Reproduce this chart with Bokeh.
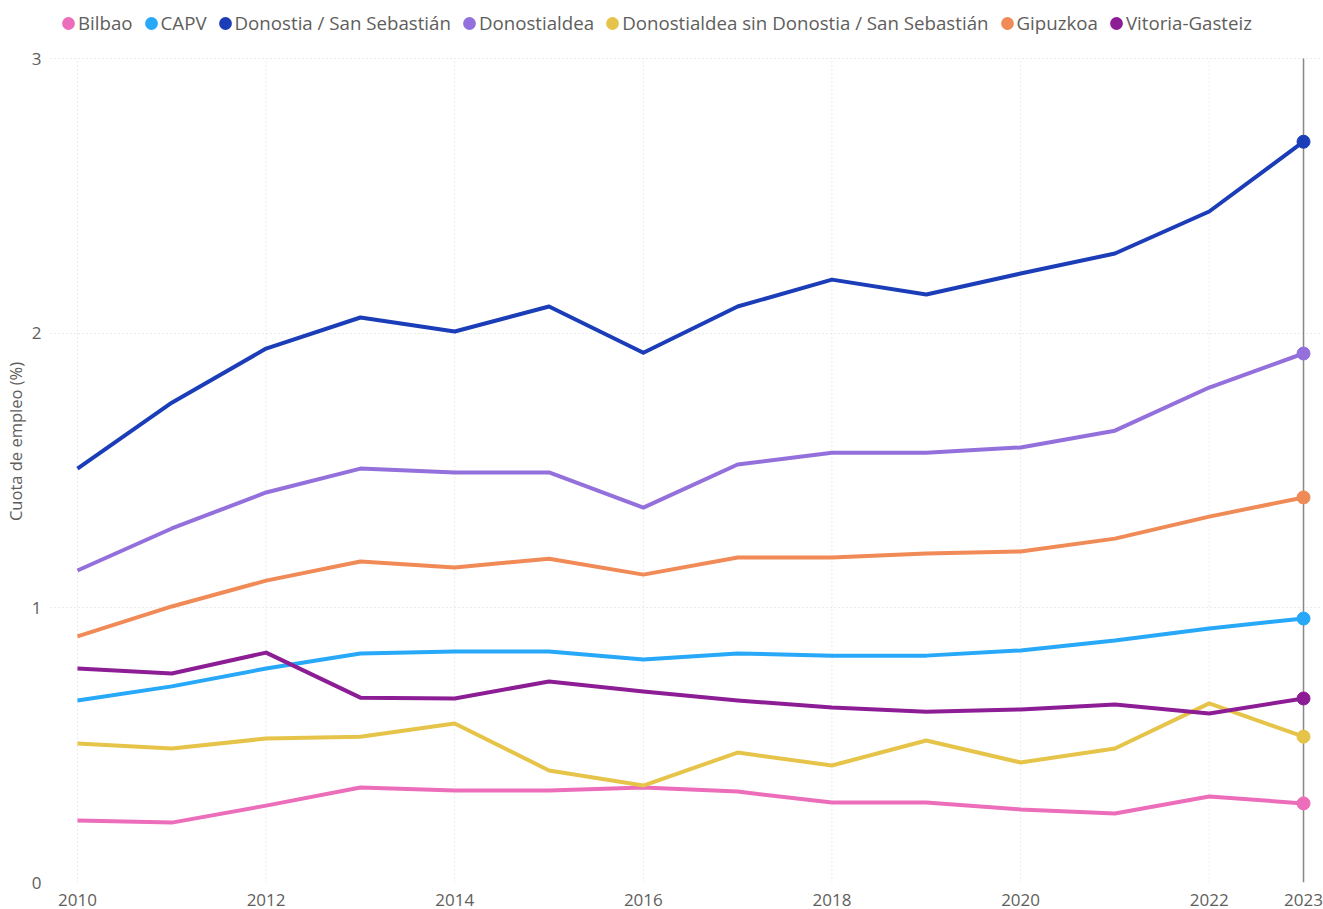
from bokeh.plotting import figure
from bokeh.models import ColumnDataSource, Legend, LegendItem, FixedTicker
from bokeh.embed import file_html
from bokeh.resources import INLINE

years = list(range(2010, 2024))
series_names = ["Bilbao", "CAPV", "Donostia / San Sebastián", "Donostialdea",
                "Donostialdea sin Donostia / San Sebastián", "Gipuzkoa", "Vitoria-Gasteiz"]
bilbao = [0.226, 0.218, 0.280, 0.346, 0.335, 0.335, 0.346, 0.331, 0.291, 0.291, 0.266, 0.251, 0.313, 0.288]
capv = [0.663, 0.714, 0.779, 0.834, 0.841, 0.841, 0.812, 0.834, 0.826, 0.826, 0.845, 0.881, 0.925, 0.961]
donostia = [1.507, 1.747, 1.944, 2.057, 2.006, 2.097, 1.929, 2.097, 2.195, 2.141, 2.217, 2.290, 2.443, 2.697]
donostialdea = [1.136, 1.289, 1.420, 1.507, 1.493, 1.493, 1.365, 1.522, 1.565, 1.565, 1.584, 1.645, 1.802, 1.926]
sin_donostia = [0.506, 0.488, 0.524, 0.531, 0.579, 0.408, 0.353, 0.473, 0.426, 0.517, 0.437, 0.488, 0.652, 0.531]
gipuzkoa = [0.896, 1.005, 1.099, 1.169, 1.147, 1.179, 1.121, 1.183, 1.183, 1.198, 1.205, 1.252, 1.332, 1.402]
vitoria = [0.779, 0.761, 0.837, 0.673, 0.670, 0.732, 0.695, 0.663, 0.637, 0.622, 0.630, 0.648, 0.615, 0.670]
colors = ["#EC6DB9", "#28A8F8", "#1B3DB8", "#9370DB", "#E6C449", "#F08A56", "#8C1D95"]
x_ticks = [2010, 2012, 2014, 2016, 2018, 2020, 2022, 2023]
x_grid_years = [2010, 2012, 2014, 2016, 2018, 2020, 2022]
y_ticks = [0, 1, 2, 3]

all_values = [bilbao, capv, donostia, donostialdea, sin_donostia, gipuzkoa, vitoria]

FONT = "Open Sans"
GREY = "#605E5C"

# frame spans from the top of the canvas (legend sits inside the frame, above y=3)
p = figure(width=1323, height=909, output_backend="svg", toolbar_location=None,
           x_range=(2009.714, 2023.18), y_range=(0, 3.2112),
           min_border_left=50, min_border_right=3, min_border_top=0, min_border_bottom=27)
p.outline_line_color = None
p.background_fill_color = "white"

# vertical dotted grid lines, limited to the value range
n = len(x_grid_years)
p.segment(x0=x_grid_years, y0=[y_ticks[0]] * n, x1=x_grid_years, y1=[y_ticks[-1]] * n,
          line_color="#D6D6D6", line_width=1, line_dash="1 3")
# current-year reference line
p.segment(x0=[years[-1]], y0=[y_ticks[0]], x1=[years[-1]], y1=[y_ticks[-1]],
          line_color="#8A8886", line_width=1.5)

order = [0, 4, 6, 1, 5, 3, 2]
for i in range(len(series_names)):
    src = ColumnDataSource(dict(x=years, y=all_values[i]))
    p.line("x", "y", source=src, line_color=colors[i], line_width=4, line_join="round")
for i in order:
    src_last = ColumnDataSource(dict(x=[years[-1]], y=[all_values[i][-1]]))
    p.scatter("x", "y", source=src_last, size=13, fill_color=colors[i], line_color=colors[i])

items = []
for i, name in enumerate(series_names):
    dummy = ColumnDataSource(dict(x=[float("nan")], y=[float("nan")]))
    r = p.ellipse("x", "y", source=dummy, width=13, height=13,
                  width_units="screen", height_units="screen",
                  fill_color=colors[i], line_color=None)
    items.append(LegendItem(label=name, renderers=[r]))

legend = Legend(items=items, orientation="horizontal", location=(10, 847),
                glyph_width=16, glyph_height=20, label_standoff=2, spacing=10,
                padding=0, margin=0, border_line_color=None, background_fill_alpha=0,
                label_text_font=FONT, label_text_font_size="18.7px", label_text_color=GREY,
                label_height=20)
p.add_layout(legend)

p.xaxis.ticker = FixedTicker(ticks=x_ticks)
p.yaxis.ticker = FixedTicker(ticks=y_ticks)
p.yaxis.bounds = (y_ticks[0], y_ticks[-1])
for ax in (p.xaxis[0], p.yaxis[0]):
    ax.axis_line_color = None
    ax.major_tick_line_color = None
    ax.minor_tick_line_color = None
    ax.major_label_text_font = FONT
    ax.major_label_text_font_size = "17px"
    ax.major_label_text_color = GREY
p.xaxis.major_label_standoff = 5
p.yaxis.major_label_standoff = 3
p.yaxis.axis_label = "Cuota de empleo (%)"
p.yaxis.axis_label_text_font = FONT
p.yaxis.axis_label_text_font_size = "16.5px"
p.yaxis.axis_label_text_font_style = "normal"
p.yaxis.axis_label_text_color = GREY
p.yaxis.axis_label_standoff = 2

p.xgrid.visible = False
p.ygrid.ticker = FixedTicker(ticks=y_ticks)
p.ygrid.grid_line_color = "#D6D6D6"
p.ygrid.grid_line_dash = "1 3"

open("out.html", "w").write(file_html(p, INLINE))
